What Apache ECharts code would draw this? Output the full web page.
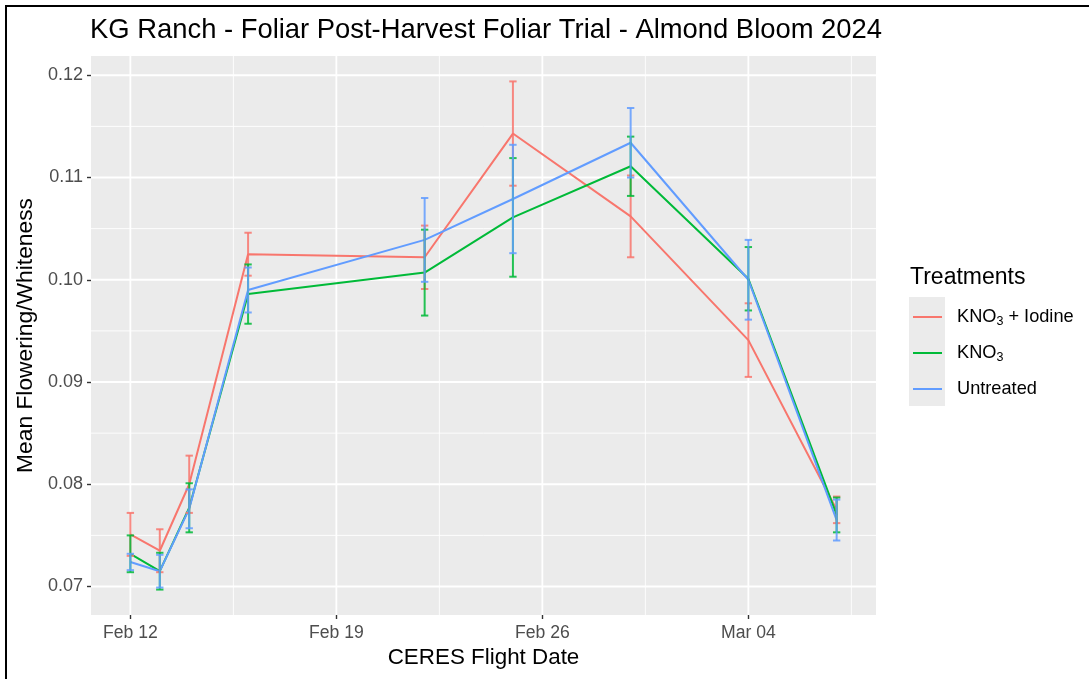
<!DOCTYPE html>
<html>
<head>
<meta charset="utf-8">
<script src="https://cdn.jsdelivr.net/npm/echarts@6/dist/echarts.min.js"></script>
<style>
  html, body { margin: 0; padding: 0; background: #ffffff; }
  #chart { width: 1089px; height: 679px; }
</style>
</head>
<body>
<div id="chart"></div>
<script>
// CERES flight dates (2024 bloom)
const flightDates = ['2024-02-12', '2024-02-13', '2024-02-14', '2024-02-16', '2024-02-22',
                     '2024-02-25', '2024-02-29', '2024-03-04', '2024-03-07'];
const treatments = ['KNO3 + Iodine', 'KNO3', 'Untreated'];
const treatmentColors = ['#F8766D', '#00BA38', '#619CFF'];

// Mean flowering / whiteness per flight
const meanIodine    = [0.0751, 0.0735, 0.0800, 0.1025, 0.1022, 0.1143, 0.1062, 0.0941, 0.0775];
const meanKno3      = [0.0732, 0.0715, 0.0777, 0.0986, 0.1007, 0.1061, 0.1111, 0.1001, 0.0770];
const meanUntreated = [0.0724, 0.0715, 0.0776, 0.0990, 0.1039, 0.1079, 0.1134, 0.1000, 0.0765];

// Error bar half-widths
const errIodine    = [0.0021, 0.0021, 0.0028, 0.0021, 0.0031, 0.0051, 0.0040, 0.0036, 0.0013];
const errKno3      = [0.0018, 0.0018, 0.0024, 0.0029, 0.0042, 0.0058, 0.0029, 0.0031, 0.0017];
const errUntreated = [0.0008, 0.0016, 0.0019, 0.0022, 0.0041, 0.0053, 0.0034, 0.0039, 0.0020];

// Axis breaks
const xTickDates  = ['2024-02-12', '2024-02-19', '2024-02-26', '2024-03-04'];
const xTickLabels = ['Feb 12', 'Feb 19', 'Feb 26', 'Mar 04'];
const yTickValues = [0.07, 0.08, 0.09, 0.10, 0.11, 0.12];

const means = [meanIodine, meanKno3, meanUntreated];
const errs = [errIodine, errKno3, errUntreated];

const DAY = 86400000;
const origin = Date.UTC(2024, 1, 12);
function dayOffset(s) {
  const p = s.split('-').map(Number);
  return (Date.UTC(p[0], p[1] - 1, p[2]) - origin) / DAY;
}
const flightDays = flightDates.map(dayOffset);
const xTickDays = xTickDates.map(dayOffset);

// Error-bar cap width, in days
const capWidth = 0.25;

// Scale limits with 5% expansion on each side
const xLo = Math.min(...flightDays) - capWidth / 2;
const xHi = Math.max(...flightDays) + capWidth / 2;
const xMin = xLo - 0.05 * (xHi - xLo);
const xMax = xHi + 0.05 * (xHi - xLo);
let yLo = Infinity, yHi = -Infinity;
means.forEach((m, s) => m.forEach((v, i) => {
  yLo = Math.min(yLo, v - errs[s][i]);
  yHi = Math.max(yHi, v + errs[s][i]);
}));
const yMin = yLo - 0.05 * (yHi - yLo);
const yMax = yHi + 0.05 * (yHi - yLo);

// Panel grid lines: [value, isMajor, isVertical]
const gridLines = [];
for (let v = 0.065; v <= 0.1251; v += 0.005) {
  const r = Math.round(v * 1000) / 1000;
  if (r >= yMin && r <= yMax) gridLines.push([r, Math.round(r * 1000) % 10 === 0 ? 1 : 0, 0]);
}
for (let d = -3.5; d <= 28; d += 3.5) {
  if (d >= xMin && d <= xMax) gridLines.push([d, (d % 7 === 0) ? 1 : 0, 1]);
}

function renderGridLine(params, api) {
  const cs = params.coordSys;
  const v = api.value(0);
  const major = api.value(1) === 1;
  const vertical = api.value(2) === 1;
  let shape;
  if (vertical) {
    const x = api.coord([v, yMin])[0];
    shape = { x1: x, y1: cs.y, x2: x, y2: cs.y + cs.height };
  } else {
    const y = api.coord([xMin, v])[1];
    shape = { x1: cs.x, y1: y, x2: cs.x + cs.width, y2: y };
  }
  return { type: 'line', shape: shape, silent: true,
           style: { stroke: '#ffffff', lineWidth: major ? 1.8 : 0.9 } };
}

function makeErrorRenderer(color) {
  return function (params, api) {
    const x = api.value(0);
    const pLo = api.coord([x, api.value(1)]);
    const pHi = api.coord([x, api.value(2)]);
    const half = api.size([capWidth, 0])[0] / 2;
    const style = { stroke: color, lineWidth: 2, opacity: 0.85 };
    return {
      type: 'group',
      children: [
        { type: 'line', shape: { x1: pLo[0], y1: pLo[1], x2: pHi[0], y2: pHi[1] }, style: style },
        { type: 'line', shape: { x1: pLo[0] - half, y1: pLo[1], x2: pLo[0] + half, y2: pLo[1] }, style: style },
        { type: 'line', shape: { x1: pHi[0] - half, y1: pHi[1], x2: pHi[0] + half, y2: pHi[1] }, style: style }
      ]
    };
  };
}

const FONT = '"Liberation Sans", Arial, Helvetica, sans-serif';

const series = [{
  type: 'custom',
  name: 'grid',
  renderItem: renderGridLine,
  data: gridLines,
  z: 1,
  silent: true,
  clip: true
}];

treatments.forEach((name, s) => {
  series.push({
    type: 'line',
    name: name,
    color: treatmentColors[s],
    data: flightDays.map((d, i) => [d, means[s][i]]),
    symbol: 'none',
    lineStyle: { width: 2, color: treatmentColors[s] },
    z: 2 + s
  });
});
treatments.forEach((name, s) => {
  series.push({
    type: 'custom',
    name: name,
    color: treatmentColors[s],
    renderItem: makeErrorRenderer(treatmentColors[s]),
    encode: { x: 0, y: [1, 2] },
    data: flightDays.map((d, i) => [d, means[s][i] - errs[s][i], means[s][i] + errs[s][i]]),
    z: 6 + s
  });
});

const chart = echarts.init(document.getElementById('chart'), null, { renderer: 'canvas' });
chart.setOption({
  animation: false,
  backgroundColor: '#ffffff',
  textStyle: { fontFamily: FONT },
  title: [
    {
      text: 'KG Ranch - Foliar Post-Harvest Foliar Trial - Almond Bloom 2024',
      left: 85, top: 12,
      textStyle: { fontFamily: FONT, fontSize: 27.4, fontWeight: 'normal', color: '#000000' }
    },
    {
      text: 'Treatments',
      left: 905, top: 261,
      textStyle: { fontFamily: FONT, fontSize: 23, fontWeight: 'normal', color: '#000000' }
    }
  ],
  graphic: [
    { type: 'rect', shape: { x: 6, y: 6, width: 1100, height: 700 },
      style: { fill: 'none', stroke: '#000000', lineWidth: 2 }, silent: true },
    { type: 'rect', shape: { x: 909, y: 297, width: 36, height: 109 },
      style: { fill: '#EBEBEB' }, silent: true, z: -1 }
  ],
  legend: {
    data: treatments,
    orient: 'vertical',
    left: 908, top: 301,
    itemWidth: 29, itemHeight: 2,
    itemGap: 14,
    icon: 'rect',
    selectedMode: false,
    formatter: function (name) { return name.replace('KNO3', 'KNO{sub|3}'); },
    textStyle: {
      fontFamily: FONT, fontSize: 18.2, color: '#000000', lineHeight: 22,
      padding: [0, 0, 0, 10],
      rich: {
        sub: { fontFamily: FONT, fontSize: 12.5, lineHeight: 12, verticalAlign: 'bottom', color: '#000000' }
      }
    }
  },
  grid: {
    left: 91, right: 213, top: 56, bottom: 64,
    show: true, backgroundColor: '#EBEBEB', borderWidth: 0
  },
  xAxis: {
    type: 'value',
    min: xMin, max: xMax,
    name: 'CERES Flight Date',
    nameLocation: 'middle',
    nameGap: 30,
    nameTextStyle: { fontFamily: FONT, fontSize: 22.4, color: '#000000' },
    axisLine: { show: false, onZero: false },
    splitLine: { show: false },
    axisTick: { show: true, length: 4, customValues: xTickDays, lineStyle: { color: '#333333', width: 1.4 } },
    axisLabel: {
      customValues: xTickDays,
      margin: 9,
      fontFamily: FONT, fontSize: 17.6, color: '#4D4D4D',
      formatter: function (v) {
        const k = xTickDays.indexOf(v);
        return k >= 0 ? xTickLabels[k] : '';
      }
    }
  },
  yAxis: {
    type: 'value',
    min: yMin, max: yMax,
    name: 'Mean Flowering/Whiteness',
    nameLocation: 'middle',
    nameGap: 50,
    nameTextStyle: { fontFamily: FONT, fontSize: 22.8, color: '#000000' },
    axisLine: { show: false, onZero: false },
    splitLine: { show: false },
    axisTick: { show: true, length: 4, customValues: yTickValues, lineStyle: { color: '#333333', width: 1.4 } },
    axisLabel: {
      customValues: yTickValues,
      margin: 8,
      fontFamily: FONT, fontSize: 18, color: '#4D4D4D',
      formatter: function (v) { return v.toFixed(2); }
    }
  },
  series: series
});
</script>
</body>
</html>
